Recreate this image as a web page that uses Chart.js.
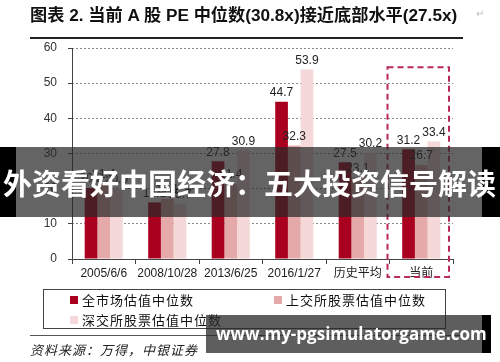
<!DOCTYPE html>
<html>
<head>
<meta charset="utf-8">
<script src="https://cdn.jsdelivr.net/npm/chart.js@4"></script>
<style>
  body { margin: 0; background: #fff; }
  #wrap { position: relative; width: 500px; height: 362px; overflow: hidden; font-family: "Liberation Sans", "Noto Sans CJK SC", sans-serif; }
  canvas { position: absolute; left: 0; top: 0; }
  .abs { position: absolute; white-space: nowrap; }
  #title { left: 30px; top: 1px; font-size: 17.2px; font-weight: bold; color: #111; }
  #rule1 { left: 30px; top: 37px; width: 433px; height: 1.5px; background: #222; }
  #legend { left: 43px; top: 289px; width: 403px; height: 40px; border: 1px solid #444; box-sizing: border-box; }
  .lg { position: absolute; font-family: "Noto Sans CJK SC", sans-serif; font-size: 13px; letter-spacing: 1px; color: #111; line-height: 16px; }
  .lg i { display: inline-block; width: 8px; height: 8px; margin-right: 4px; vertical-align: 1px; }
  #rule2 { left: 30px; top: 335px; width: 432px; height: 1px; background: #555; }
  #source { left: 30px; top: 340px; font-family: "Noto Sans CJK SC", sans-serif; font-size: 13px; font-style: italic; color: #222; letter-spacing: 1px; }
  .mark { color: #bbb; font-size: 10px; }
  #ban1 { left: 16px; top: 147px; width: 466px; height: 70px; background: rgba(40,40,40,0.72); }
  .blk { background: #000; }
  #ban1txt { left: 3px; top: 147px; height: 70px; line-height: 70px; font-family: "Noto Sans CJK SC", sans-serif; font-weight: bold; font-size: 29px; color: #fff; }
  #ban2 { left: 206px; top: 315px; width: 276px; height: 38px; background: rgba(40,40,40,0.75); }
  #ban2txt { left: 216px; top: 315px; height: 38px; line-height: 38px; font-family: "Open Sans", sans-serif; font-weight: bold; font-size: 17px; color: #fff; }
</style>
</head>
<body>
<div id="wrap">
  <canvas id="chart" width="500" height="362"></canvas>
  <div class="abs" id="title">图表 2. 当前 A 股 PE 中位数(30.8x)接近底部水平(27.5x)</div>
  <div class="abs mark" style="left:476px;top:8px">↵</div>
  <div class="abs" id="rule1"></div>
  <div class="abs" id="legend">
    <div class="lg" style="left:26px;top:2px"><i style="background:#A8001E"></i>全市场估值中位数</div>
    <div class="lg" style="left:230px;top:2px"><i style="background:#E6A9A9"></i>上交所股票估值中位数</div>
    <div class="lg" style="left:26px;top:22px"><i style="background:#F5D8D8"></i>深交所股票估值中位数</div>
  </div>
  <div class="abs" id="rule2"></div>
  <div class="abs" id="source">资料来源：万得，中银证券</div>
  <div class="abs blk" style="left:0;top:147px;width:16px;height:70px"></div>
  <div class="abs blk" style="left:482px;top:147px;width:18px;height:70px"></div>
  <div class="abs" id="ban1"></div>
  <div class="abs" id="ban1txt">外资看好中国经济：五大投资信号解读</div>
  <div class="abs blk" style="left:482px;top:315px;width:9px;height:38px"></div>
  <div class="abs" id="ban2"></div>
  <div class="abs" id="ban2txt">www.my-pgsimulatorgame.com</div>
</div>
<script>
const categories = ['2005/6/6', '2008/10/28', '2013/6/25', '2016/1/27', '历史平均', '当前'];
const allMarket = [20.2, 16.1, 27.8, 44.7, 27.5, 31.2];
const shanghai = [21.4, 17.1, 21.4, 32.3, 23.1, 26.7];
const shenzhen = [20.0, 15.7, 30.9, 53.9, 30.2, 33.4];
const yTicks = [0, 10, 20, 30, 40, 50, 60];

// value labels above each bar
const valueLabels = {
  id: 'valueLabels',
  afterDatasetsDraw(chart) {
    const ctx = chart.ctx;
    ctx.save();
    ctx.font = '12px "Liberation Sans", Arial, sans-serif';
    ctx.fillStyle = '#222';
    ctx.textAlign = 'center';
    ctx.textBaseline = 'bottom';
    chart.data.datasets.forEach((ds, i) => {
      chart.getDatasetMeta(i).data.forEach((bar, j) => {
        ctx.fillText(ds.data[j].toFixed(1), bar.x, bar.y - 3);
      });
    });
    ctx.restore();
  }
};

// dashed box round the last category, plus a solid y axis line
const currentBox = {
  id: 'currentBox',
  afterDraw(chart) {
    const x = chart.scales.x;
    const y = chart.scales.y;
    const ctx = chart.ctx;
    const area = chart.chartArea;
    ctx.save();
    ctx.strokeStyle = '#444';
    ctx.lineWidth = 1;
    ctx.beginPath();
    ctx.moveTo(area.left + 0.5, area.top);
    ctx.lineTo(area.left + 0.5, area.bottom);
    ctx.stroke();

    const last = categories.length - 1;
    const half = (x.getPixelForValue(1) - x.getPixelForValue(0)) / 2;
    const left = x.getPixelForValue(last) - half - 2;
    const right = x.getPixelForValue(last) + half - 4;
    const top = y.getPixelForValue(54.5);
    const bottom = area.bottom + 18;
    ctx.strokeStyle = '#B8285A';
    ctx.lineWidth = 2;
    ctx.setLineDash([6, 4]);
    ctx.strokeRect(left, top, right - left, bottom - top);
    ctx.restore();
  }
};

new Chart(document.getElementById('chart').getContext('2d'), {
  type: 'bar',
  data: {
    labels: categories,
    datasets: [
      { label: '全市场估值中位数', data: allMarket, backgroundColor: '#A8001E' },
      { label: '上交所股票估值中位数', data: shanghai, backgroundColor: '#E6A9A9' },
      { label: '深交所股票估值中位数', data: shenzhen, backgroundColor: '#F5D8D8' }
    ]
  },
  options: {
    responsive: false,
    animation: false,
    layout: { padding: { left: 0, right: 47, top: 48, bottom: 83 } },
    datasets: { bar: { categoryPercentage: 0.6, barPercentage: 1.0 } },
    plugins: { legend: { display: false }, tooltip: { enabled: false } },
    scales: {
      x: {
        afterFit(scale) { scale.height = 20; },
        grid: { offset: true, drawOnChartArea: false, tickLength: 5, color: '#444' },
        border: { color: '#444', width: 1 },
        ticks: {
          padding: 2,
          maxRotation: 0,
          minRotation: 0,
          autoSkip: false,
          color: '#222',
          font: { family: '"Liberation Sans", "Noto Sans CJK SC", sans-serif', size: 12 }
        }
      },
      y: {
        min: 0,
        max: 60,
        afterFit(scale) { scale.width = 72; },
        afterBuildTicks(scale) { scale.ticks = yTicks.map(v => ({ value: v })); },
        grid: { color: '#888', tickLength: 4, tickColor: '#444', lineWidth: 1 },
        border: { display: false, dash: [2, 2] },
        ticks: {
          padding: 11,
          color: '#333',
          font: { family: '"Liberation Sans", Arial, sans-serif', size: 12 }
        }
      }
    }
  },
  plugins: [valueLabels, currentBox]
});
</script>
</body>
</html>
